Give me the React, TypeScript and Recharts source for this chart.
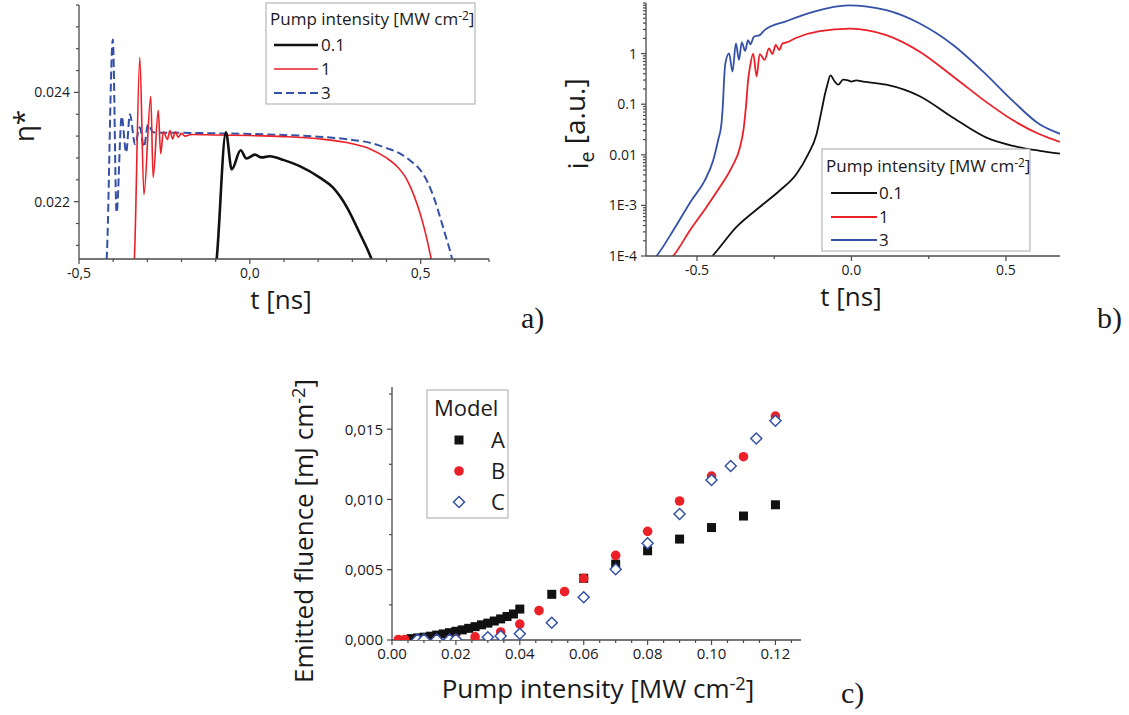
import React from 'react';
import { LineChart, Line, ScatterChart, Scatter, XAxis, YAxis } from 'recharts';

const W = 1129;
const H = 715;
const FONT = '"Open Sans", "Noto Sans", sans-serif';
const SERIF = '"Liberation Serif", "DejaVu Serif", serif';
const AXIS = '#4a4a4a';
const INK = '#1a1a1a';
const BLACK = '#111111';
const RED = '#ec2027';
const BLUE = '#3451a8';

// a) eta* vs t, pump 0.1 / 1 / 3 MW cm-2
const A_T01 = [-0.105, -0.097, -0.07, -0.053, -0.027, -0.01, 0.015, 0.034, 0.058, 0.1, 0.146, 0.205, 0.243, 0.283, 0.321, 0.356, 0.38];
const A_V01 = [0.0205, 0.02095, 0.02327, 0.02259, 0.02294, 0.02279, 0.02286, 0.02281, 0.02283, 0.02276, 0.02265, 0.02244, 0.02226, 0.02191, 0.02143, 0.02095, 0.0205];
const A_T1 = [-0.345, -0.338, -0.322, -0.31, -0.29, -0.283, -0.268, -0.261, -0.253, -0.241, -0.234, -0.226, -0.218, -0.21, -0.2, -0.19, -0.17, -0.1, 0.0, 0.1, 0.2, 0.3, 0.35, 0.4, 0.43, 0.46, 0.48, 0.5, 0.515, 0.531, 0.54];
const A_V1 = [0.0205, 0.02095, 0.02464, 0.02213, 0.02393, 0.02244, 0.02367, 0.02288, 0.02328, 0.02314, 0.0233, 0.02315, 0.02328, 0.02318, 0.02325, 0.0232, 0.02323, 0.02322, 0.02321, 0.02319, 0.02315, 0.02306, 0.02297, 0.0228, 0.02265, 0.0224, 0.02212, 0.02175, 0.0214, 0.02095, 0.0207];
const A_T3 = [-0.425, -0.419, -0.401, -0.39, -0.375, -0.362, -0.351, -0.336, -0.322, -0.31, -0.298, -0.283, -0.25, -0.2, -0.1, 0.0, 0.1, 0.2, 0.3, 0.35, 0.4, 0.44, 0.47, 0.5, 0.52, 0.54, 0.56, 0.575, 0.592, 0.6];
const A_V3 = [0.0205, 0.02095, 0.02497, 0.0218, 0.02356, 0.0229, 0.0236, 0.02305, 0.02336, 0.023, 0.02341, 0.02327, 0.02326, 0.02326, 0.02325, 0.02324, 0.02322, 0.02319, 0.02313, 0.02308, 0.02298, 0.02288, 0.02275, 0.02257, 0.02236, 0.02205, 0.02165, 0.02133, 0.02095, 0.0207];

// b) i_e vs t (log)
const B_T01 = [-0.48, -0.45, -0.372, -0.297, -0.232, -0.178, -0.14, -0.113, -0.097, -0.086, -0.078, -0.068, -0.054, -0.043, -0.027, -0.011, 0.0, 0.016, 0.038, 0.113, 0.221, 0.329, 0.437, 0.523, 0.609, 0.675];
const B_V01 = [6.5e-5, 1e-4, 3.76e-4, 9.3e-4, 1.97e-3, 4.18e-3, 0.0103, 0.0255, 0.073, 0.155, 0.243, 0.37, 0.28, 0.243, 0.305, 0.296, 0.28, 0.296, 0.28, 0.243, 0.144, 0.054, 0.0218, 0.015, 0.012, 0.0105];
const B_T1 = [-0.61, -0.577, -0.523, -0.469, -0.426, -0.388, -0.361, -0.3485, -0.34, -0.335, -0.329, -0.318, -0.307, -0.297, -0.281, -0.267, -0.256, -0.245, -0.234, -0.223, -0.21, -0.178, -0.103, -0.005, 0.113, 0.221, 0.329, 0.437, 0.523, 0.609, 0.675];
const B_V1 = [6.5e-5, 1e-4, 3.2e-4, 9.3e-4, 2.3e-3, 5.6e-3, 0.0139, 0.0343, 0.115, 0.28, 0.52, 1.0, 0.354, 0.98, 0.75, 1.27, 0.98, 1.48, 1.18, 1.59, 1.66, 2.06, 2.79, 3.13, 2.32, 1.09, 0.354, 0.11, 0.048, 0.0255, 0.018];
const B_T3 = [-0.66, -0.631, -0.577, -0.518, -0.475, -0.448, -0.432, -0.421, -0.4155, -0.4126, -0.408, -0.396, -0.385, -0.374, -0.364, -0.355, -0.344, -0.335, -0.327, -0.316, -0.297, -0.281, -0.21, -0.124, -0.011, 0.113, 0.221, 0.329, 0.437, 0.523, 0.609, 0.675];
const B_V3 = [6.5e-5, 1e-4, 3.2e-4, 1.25e-3, 3.1e-3, 7.6e-3, 0.019, 0.04, 0.115, 0.28, 0.65, 1.01, 0.44, 1.59, 0.75, 1.66, 1.13, 1.85, 1.52, 2.15, 2.32, 2.91, 4.38, 6.67, 9.0, 7.2, 3.93, 1.48, 0.38, 0.115, 0.04, 0.026];

// c) emitted fluence vs pump intensity
const C_AX = [0.006, 0.008, 0.01, 0.012, 0.014, 0.016, 0.018, 0.02, 0.022, 0.024, 0.026, 0.028, 0.03, 0.032, 0.034, 0.036, 0.038, 0.04, 0.05, 0.06, 0.07, 0.08, 0.09, 0.1, 0.11, 0.12];
const C_AY = [0.0001, 0.00015, 0.0002, 0.00027, 0.00035, 0.00043, 0.00052, 0.00062, 0.00072, 0.00083, 0.00095, 0.00108, 0.0012, 0.00135, 0.0015, 0.00167, 0.00185, 0.0022, 0.00325, 0.00439, 0.0054, 0.00635, 0.00718, 0.008, 0.00882, 0.00962];
const C_BX = [0.002, 0.004, 0.008, 0.01, 0.014, 0.018, 0.02, 0.026, 0.034, 0.04, 0.046, 0.054, 0.06, 0.07, 0.08, 0.09, 0.1, 0.11, 0.12];
const C_BY = [0.00004, 0.00004, 0.00003, 0.00003, 0.00003, 0.00004, 0.00006, 0.00022, 0.00057, 0.00113, 0.00209, 0.00344, 0.00439, 0.00602, 0.00773, 0.00989, 0.01166, 0.01304, 0.01593];
const C_CX = [0.008, 0.01, 0.014, 0.018, 0.02, 0.03, 0.034, 0.04, 0.05, 0.06, 0.07, 0.08, 0.09, 0.1, 0.106, 0.114, 0.12];
const C_CY = [0.00003, 0.00003, 0.00003, 0.00003, 0.00004, 0.0002, 0.00028, 0.00045, 0.00123, 0.00304, 0.00503, 0.00688, 0.00896, 0.01138, 0.01238, 0.01434, 0.0156];

// ticks
const A_XTICKS = [-0.5, -0.4, -0.3, -0.2, -0.1, 0, 0.1, 0.2, 0.3, 0.4, 0.5, 0.6, 0.7];
const A_XMAJOR = [-0.5, 0, 0.5];
const A_YTICKS = [0.0212, 0.0216, 0.022, 0.0224, 0.0228, 0.0232, 0.0236, 0.024, 0.0244, 0.0248, 0.0252, 0.0256];
const A_YMAJOR = [0.022, 0.024];
const B_XTICKS = [-0.5, -0.25, 0, 0.25, 0.5];
const B_XMAJOR = [-0.5, 0, 0.5];
const B_YMAJOR = [1e-4, 1e-3, 0.01, 0.1, 1];
const B_YLABELS = ['1E-4', '1E-3', '0.01', '0.1', '1'];
const B_YTICKS: number[] = [];
B_YMAJOR.forEach((d) => [1, 2, 3, 4, 5, 6, 7, 8, 9].forEach((m) => B_YTICKS.push(d * m)));
B_YTICKS.push(10);
const C_XTICKS = [0, 0.005, 0.01, 0.015, 0.02, 0.025, 0.03, 0.035, 0.04, 0.045, 0.05, 0.055, 0.06, 0.065, 0.07, 0.075, 0.08, 0.085, 0.09, 0.095, 0.1, 0.105, 0.11, 0.115, 0.12, 0.125];
const C_XMAJOR = [0, 0.02, 0.04, 0.06, 0.08, 0.1, 0.12];
const C_YTICKS = [0, 0.0025, 0.005, 0.0075, 0.01, 0.0125, 0.015, 0.0175];
const C_YMAJOR = [0, 0.005, 0.01, 0.015];

const zip = (ts: number[], vs: number[]) => ts.map((t, i) => ({ t, v: vs[i] }));
const pts = (xs: number[], ys: number[]) => xs.map((x, i) => ({ x, y: ys[i] }));

const YW = 60;
const XH = 40;
function frame(x0: number, y0: number, x1: number, y1: number) {
  return { left: x0 - YW, top: y0, right: W - x1, bottom: H - y1 - XH };
}

const near = (a: number, b: number) => Math.abs(a - b) <= Math.abs(b) * 1e-6 + 1e-12;

function makeTick(side: 'left' | 'bottom', majors: number[], fmt: (v: number) => string, fs: number) {
  return (p: any) => {
    const v = Number(p.payload.value);
    const isMajor = majors.some((m) => near(v, m));
    const len = isMajor ? 5 : 3;
    if (side === 'left') {
      return (
        <g>
          <line x1={p.x - len} y1={p.y} x2={p.x} y2={p.y} stroke={AXIS} strokeWidth={1.2} />
          {isMajor && (
            <text x={p.x - len - 4} y={p.y} dy="0.36em" textAnchor="end" fontSize={fs} fontFamily={FONT} fill={INK}>
              {fmt(v)}
            </text>
          )}
        </g>
      );
    }
    return (
      <g>
        <line x1={p.x} y1={p.y} x2={p.x} y2={p.y + len} stroke={AXIS} strokeWidth={1.2} />
        {isMajor && (
          <text x={p.x} y={p.y + 5 + 3 + fs * 0.76} textAnchor="middle" fontSize={fs} fontFamily={FONT} fill={INK}>
            {fmt(v)}
          </text>
        )}
      </g>
    );
  };
}

const axisLine = { stroke: AXIS, strokeWidth: 1.3 };
const layer: React.CSSProperties = { position: 'absolute', left: 0, top: 0 };

const Square = (p: any) => <rect x={p.cx - 4.5} y={p.cy - 4.5} width={9} height={9} fill={BLACK} />;
const Dot = (p: any) => <circle cx={p.cx} cy={p.cy} r={4.8} fill={RED} />;
const Diamond = (p: any) => (
  <path d={`M${p.cx},${p.cy - 5.5}L${p.cx + 5.5},${p.cy}L${p.cx},${p.cy + 5.5}L${p.cx - 5.5},${p.cy}Z`} fill="#fff" stroke={BLUE} strokeWidth={1.5} />
);

function Sup({ children }: { children: string }) {
  return (
    <>
      <tspan dy="-0.45em" fontSize="0.7em">{children}</tspan>
      <tspan dy="0.32em">]</tspan>
    </>
  );
}

export default function App() {
  return (
    <div style={{ position: 'absolute', left: 0, top: 0, width: W, height: H, background: '#fff' }}>
      <div style={layer}>
        <LineChart width={W} height={H} margin={frame(79, 5, 489, 259)}>
          <XAxis dataKey="t" type="number" domain={[-0.5, 0.7]} ticks={A_XTICKS} interval={0} allowDataOverflow
            axisLine={axisLine} tickLine={false} tickSize={0} tickMargin={0} height={XH}
            tick={makeTick('bottom', A_XMAJOR, (v) => v.toFixed(1).replace('.', ','), 14)} />
          <YAxis type="number" domain={[0.02095, 0.0256]} ticks={A_YTICKS} interval={0} allowDataOverflow
            axisLine={axisLine} tickLine={false} tickSize={0} tickMargin={0} width={YW}
            tick={makeTick('left', A_YMAJOR, (v) => v.toFixed(3), 14)} />
          <Line data={zip(A_T3, A_V3)} dataKey="v" type="monotone" dot={false} stroke={BLUE} strokeWidth={2} strokeDasharray="8 4" isAnimationActive={false} />
          <Line data={zip(A_T1, A_V1)} dataKey="v" type="monotone" dot={false} stroke={RED} strokeWidth={1.6} isAnimationActive={false} />
          <Line data={zip(A_T01, A_V01)} dataKey="v" type="monotone" dot={false} stroke={BLACK} strokeWidth={2.6} isAnimationActive={false} />
        </LineChart>
      </div>

      <div style={layer}>
        <LineChart width={W} height={H} margin={frame(646, 3, 1060, 256)}>
          <XAxis dataKey="t" type="number" domain={[-0.665, 0.675]} ticks={B_XTICKS} interval={0} allowDataOverflow
            axisLine={axisLine} tickLine={false} tickSize={0} tickMargin={0} height={XH}
            tick={makeTick('bottom', B_XMAJOR, (v) => v.toFixed(1), 14)} />
          <YAxis type="number" scale="log" domain={[1e-4, 10]} ticks={B_YTICKS} interval={0} allowDataOverflow
            axisLine={axisLine} tickLine={false} tickSize={0} tickMargin={0} width={YW}
            tick={makeTick('left', B_YMAJOR, (v) => B_YLABELS[B_YMAJOR.findIndex((m) => near(v, m))], 14)} />
          <Line data={zip(B_T01, B_V01)} dataKey="v" type="monotone" dot={false} stroke={BLACK} strokeWidth={1.8} isAnimationActive={false} />
          <Line data={zip(B_T1, B_V1)} dataKey="v" type="monotone" dot={false} stroke={RED} strokeWidth={1.8} isAnimationActive={false} />
          <Line data={zip(B_T3, B_V3)} dataKey="v" type="monotone" dot={false} stroke={BLUE} strokeWidth={1.8} isAnimationActive={false} />
        </LineChart>
      </div>

      <div style={layer}>
        <ScatterChart width={W} height={H} margin={frame(392, 387, 801, 640)}>
          <XAxis dataKey="x" type="number" domain={[0, 0.128]} ticks={C_XTICKS} interval={0} allowDataOverflow
            axisLine={axisLine} tickLine={false} tickSize={0} tickMargin={0} height={XH}
            tick={makeTick('bottom', C_XMAJOR, (v) => v.toFixed(2), 15)} />
          <YAxis dataKey="y" type="number" domain={[0, 0.018]} ticks={C_YTICKS} interval={0} allowDataOverflow
            axisLine={axisLine} tickLine={false} tickSize={0} tickMargin={0} width={YW}
            tick={makeTick('left', C_YMAJOR, (v) => v.toFixed(3).replace('.', ','), 15)} />
          <Scatter data={pts(C_AX, C_AY)} shape={Square} isAnimationActive={false} />
          <Scatter data={pts(C_BX, C_BY)} shape={Dot} isAnimationActive={false} />
          <Scatter data={pts(C_CX, C_CY)} shape={Diamond} isAnimationActive={false} />
        </ScatterChart>
      </div>

      <svg width={W} height={H} style={{ ...layer, pointerEvents: 'none' }} fontFamily={FONT} fill={INK}>
        {/* a) */}
        <text transform="translate(34,126) rotate(-90)" textAnchor="middle" fontSize={28}>η*</text>
        <text x={281} y={309} textAnchor="middle" fontSize={26}>t [ns]</text>
        <rect x={266} y={3} width={209} height={101} fill="#fff" stroke="#a8a8a8" />
        <text x={270} y={25} fontSize={17}>Pump intensity [MW cm<Sup>-2</Sup></text>
        <line x1={274} x2={318} y1={45} y2={45} stroke={BLACK} strokeWidth={2.6} />
        <line x1={274} x2={318} y1={69} y2={69} stroke={RED} strokeWidth={1.6} />
        <line x1={274} x2={318} y1={93} y2={93} stroke={BLUE} strokeWidth={2} strokeDasharray="8 4" />
        <text x={321} y={51} fontSize={17}>0.1</text>
        <text x={321} y={75} fontSize={17}>1</text>
        <text x={321} y={99} fontSize={17}>3</text>
        <text x={521} y={328} fontSize={30} fontFamily={SERIF}>a)</text>

        {/* b) */}
        <text transform="translate(588,124) rotate(-90)" textAnchor="middle" fontSize={28}>
          i<tspan dy="0.3em" fontSize="0.7em">e</tspan><tspan dy="-0.3em"> [a.u.]</tspan>
        </text>
        <text x={851} y={306} textAnchor="middle" fontSize={26}>t [ns]</text>
        <rect x={822} y={149} width={208} height={102} fill="#fff" stroke="#a8a8a8" />
        <text x={826} y={172} fontSize={17}>Pump intensity [MW cm<Sup>-2</Sup></text>
        <line x1={831} x2={877} y1={193} y2={193} stroke={BLACK} strokeWidth={1.8} />
        <line x1={831} x2={877} y1={217} y2={217} stroke={RED} strokeWidth={1.8} />
        <line x1={831} x2={877} y1={240} y2={240} stroke={BLUE} strokeWidth={1.8} />
        <text x={879} y={199} fontSize={17}>0.1</text>
        <text x={879} y={223} fontSize={17}>1</text>
        <text x={879} y={246} fontSize={17}>3</text>
        <text x={1097} y={328} fontSize={30} fontFamily={SERIF}>b)</text>

        {/* c) */}
        <text transform="translate(313,531) rotate(-90)" textAnchor="middle" fontSize={26}>
          Emitted fluence [mJ cm<Sup>-2</Sup>
        </text>
        <text x={598} y={698} textAnchor="middle" fontSize={26}>Pump intensity [MW cm<Sup>-2</Sup></text>
        <rect x={427} y={390} width={81} height={128} fill="#fff" stroke="#a8a8a8" />
        <text x={434} y={416} fontSize={22}>Model</text>
        <rect x={454.5} y={435.5} width={9} height={9} fill={BLACK} />
        <circle cx={459} cy={471} r={4.8} fill={RED} />
        <path d="M459,496.5L464.5,502L459,507.5L453.5,502Z" fill="#fff" stroke={BLUE} strokeWidth={1.5} />
        <text x={498} y={448} textAnchor="middle" fontSize={22}>A</text>
        <text x={498} y={479} textAnchor="middle" fontSize={22}>B</text>
        <text x={498} y={510} textAnchor="middle" fontSize={22}>C</text>
        <text x={841} y={703} fontSize={30} fontFamily={SERIF}>c)</text>
      </svg>
    </div>
  );
}
